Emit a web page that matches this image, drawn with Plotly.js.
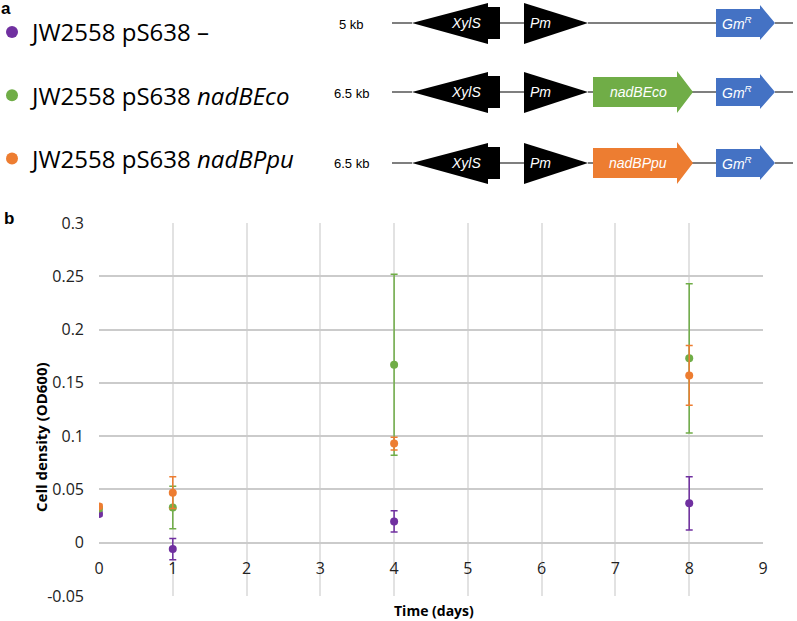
<!DOCTYPE html>
<html><head><meta charset="utf-8">
<script src="https://cdn.plot.ly/plotly-3.0.1.min.js"></script>
<style>body{margin:0;background:#fff}#c{width:797px;height:621px}</style>
</head><body><div id="c"></div>
<script>
// ---- data ----
const days = [0, 1, 4, 8];
const seriesNames = ['JW2558 pS638 \u2013', 'JW2558 pS638 <i>nadBEco</i>', 'JW2558 pS638 <i>nadBPpu</i>'];
const emptyOD = [0.027, -0.006, 0.020, 0.037];
const emptyErr = [0.002, 0.010, 0.010, 0.025];
const ecoOD = [0.032, 0.033, 0.167, 0.173];
const ecoErr = [0.002, 0.020, 0.085, 0.070];
const ppuOD = [0.034, 0.047, 0.093, 0.157];
const ppuErr = [0.002, 0.015, 0.006, 0.028];
const yTickVals = [-0.05, 0, 0.05, 0.1, 0.15, 0.2, 0.25, 0.3];
const yTickText = ['-0.05', '0', '0.05', '0.1', '0.15', '0.2', '0.25', '0.3'];
const xTickVals = [0, 1, 2, 3, 4, 5, 6, 7, 8, 9];
const plasmidSizes = ['5 kb', '6.5 kb', '6.5 kb'];
const insertGenes = [null, 'nadBEco', 'nadBPpu'];

const colors = ['#7030a0', '#70ad47', '#ed7d31'];
const blue = '#4472c4';

// ---- geometry helpers (pixel -> paper) ----
const L = 99, R = 763, T = 223, B = 596;
const px = x => (x - L) / (R - L);
const py = y => (B - y) / (B - T);
const pathOf = pts => 'M' + pts.map(p => px(p[0]).toFixed(5) + ',' + py(p[1]).toFixed(5)).join(' L') + ' Z';

const FONT = 'Open Sans, Noto Sans, sans-serif';

function mk(name, y, err, color, i) {
  return {
    x: days, y: y, name: name, type: 'scatter', mode: 'markers',
    legendgroup: 'g' + i,
    marker: {color: color, size: 8},
    error_y: {type: 'data', array: err, visible: true, color: color, thickness: 1.5, width: 3.5}
  };
}
const data = [
  mk(seriesNames[0], emptyOD, emptyErr, colors[0], 0),
  mk(seriesNames[1], ecoOD, ecoErr, colors[1], 1),
  mk(seriesNames[2], ppuOD, ppuErr, colors[2], 2)
];

// ---- panel a diagrams ----
const shapes = [];
const annotations = [];
function note(x, y, text, font, extra) {
  annotations.push(Object.assign({xref: 'paper', yref: 'paper', x: px(x), y: py(y), showarrow: false,
    xanchor: 'center', yanchor: 'middle', text: text, font: font}, extra || {}));
}
const gfont = {family: 'Liberation Sans, Arial, sans-serif', size: 14, color: '#fff'};
const rowsY = [23, 92, 163];
rowsY.forEach((cy, r) => {
  const lineSegs = [[392, 412], [500, 524]];
  if (insertGenes[r]) { lineSegs.push([588, 593]); lineSegs.push([692, 716]); }
  else lineSegs.push([588, 716]);
  lineSegs.push([775, 793]);
  lineSegs.forEach(s => shapes.push({type: 'line', xref: 'paper', yref: 'paper',
    x0: px(s[0]), x1: px(s[1]), y0: py(cy), y1: py(cy), line: {color: '#555', width: 1.5}}));
  // XylS (left arrow)
  shapes.push({type: 'path', xref: 'paper', yref: 'paper', fillcolor: '#000', line: {width: 0},
    path: pathOf([[412, cy], [488, cy - 20], [488, cy - 16], [500, cy - 16], [500, cy + 16], [488, cy + 16], [488, cy + 21]])});
  // Pm (right triangle)
  shapes.push({type: 'path', xref: 'paper', yref: 'paper', fillcolor: '#000', line: {width: 0},
    path: pathOf([[524, cy - 20], [588, cy], [524, cy + 21]])});
  // GmR
  shapes.push({type: 'path', xref: 'paper', yref: 'paper', fillcolor: blue, line: {width: 0},
    path: pathOf([[716, cy - 14], [760, cy - 14], [760, cy - 18], [775, cy], [760, cy + 17], [760, cy + 14], [716, cy + 14]])});
  if (insertGenes[r]) {
    const c = r === 1 ? colors[1] : colors[2];
    shapes.push({type: 'path', xref: 'paper', yref: 'paper', fillcolor: c, line: {width: 0},
      path: pathOf([[593, cy - 15], [677, cy - 15], [677, cy - 21], [693, cy], [677, cy + 21], [677, cy + 15], [593, cy + 15]])});
    note(638, cy, '<i>' + insertGenes[r] + '</i>', gfont);
  }
  note(466, cy, '<i>XylS</i>', gfont);
  note(540, cy, '<i>Pm</i>', gfont);
  note(737, cy, '<i>Gm<sup>R</sup></i>', gfont);
  note(351, cy + 1, plasmidSizes[r], {family: 'Liberation Sans Narrow, Liberation Sans, Arial, sans-serif', size: 13, color: '#000'});
});

// panel letters and titles
note(6, 8, '<b>a</b>', {family: 'Liberation Sans, Arial, sans-serif', size: 17, color: '#000'});
note(9, 218, '<b>b</b>', {family: 'Liberation Sans, Arial, sans-serif', size: 17, color: '#000'});
note(41, 437, '<b>Cell density (OD600)</b>', {family: FONT, size: 15, color: '#000'}, {textangle: -90});
note(434, 610, '<b>Time (days)</b>', {family: FONT, size: 14, color: '#000'});

const layout = {
  width: 797, height: 621,
  margin: {l: L, r: 797 - R, t: T, b: 621 - B, pad: 0, autoexpand: false},
  paper_bgcolor: '#fff', plot_bgcolor: '#fff',
  font: {family: FONT, size: 16, color: '#222'},
  showlegend: true,
  legend: {x: px(-8), y: py(10), xanchor: 'left', yanchor: 'top', font: {family: FONT, size: 24, color: '#000'},
    tracegroupgap: 29, itemsizing: 'constant', bgcolor: 'rgba(0,0,0,0)'},
  xaxis: {range: [0, 9], tickvals: xTickVals, showgrid: true, gridcolor: '#e2e2e2', gridwidth: 2,
    zeroline: false, showline: false, ticks: '', anchor: 'free', position: py(542.7), ticklabelstandoff: 14,
    tickfont: {family: FONT, size: 16, color: '#222'}},
  yaxis: {range: [-0.05, 0.3], tickvals: yTickVals, ticktext: yTickText, showgrid: true, gridcolor: '#cbcbcb', gridwidth: 2,
    zeroline: false, showline: false, ticks: '', ticklabelstandoff: 14,
    tickfont: {family: FONT, size: 16, color: '#222'}},
  shapes: shapes, annotations: annotations
};
Plotly.newPlot('c', data, layout, {displayModeBar: false, staticPlot: true});
</script></body></html>
